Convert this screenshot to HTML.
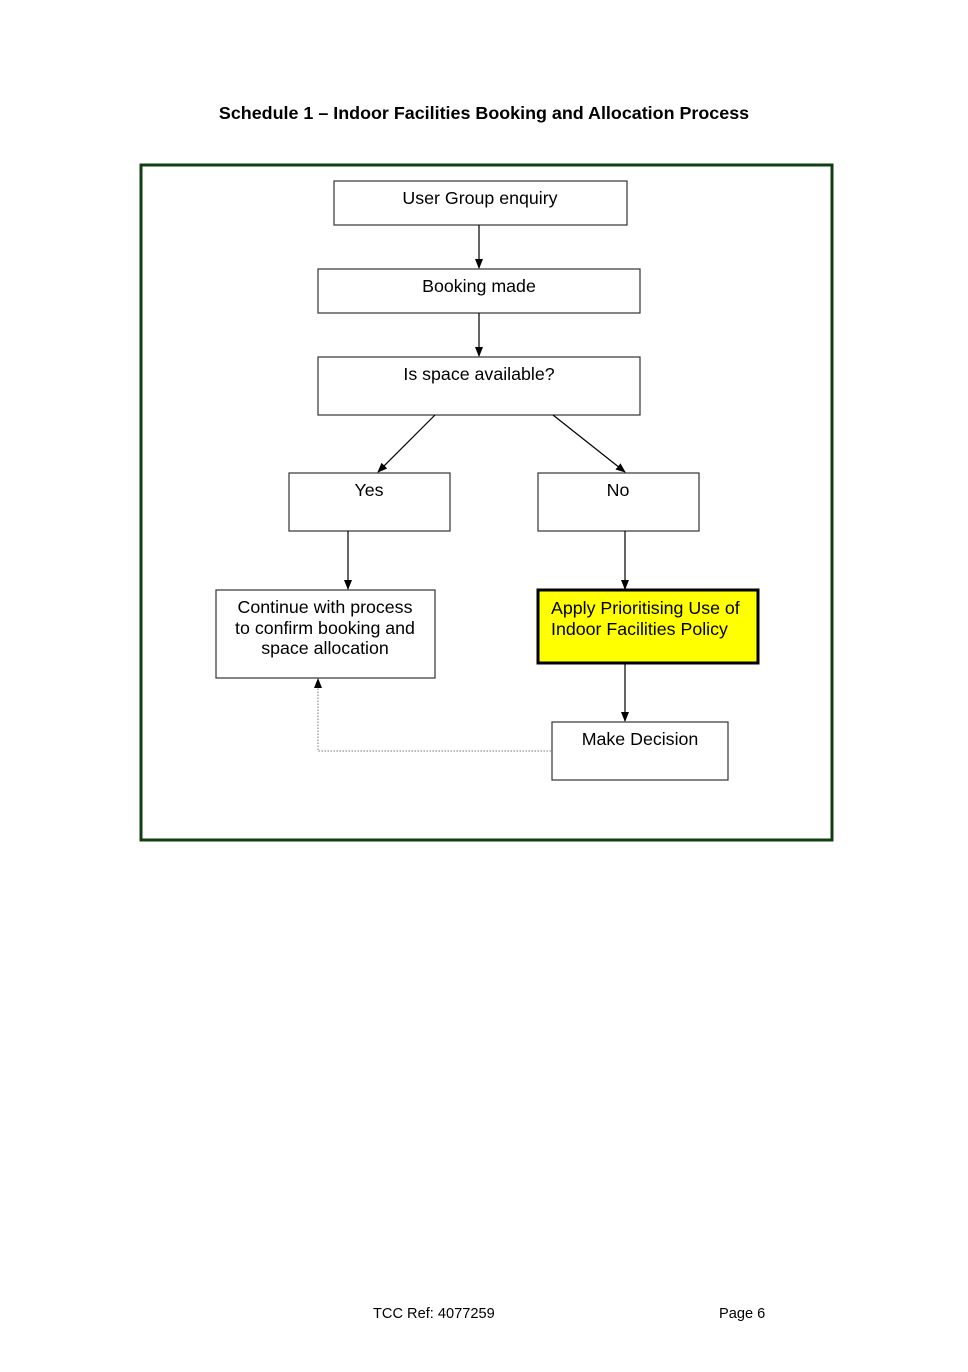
<!DOCTYPE html>
<html><head><meta charset="utf-8"><style>
body{margin:0;background:#fff;}
svg text{font-family:"Liberation Sans",Arial,sans-serif;fill:#000;}
</style></head><body>
<svg width="968" height="1367" xmlns="http://www.w3.org/2000/svg">
<defs><marker id="a" markerWidth="10" markerHeight="10" refX="9" refY="5" orient="auto" markerUnits="userSpaceOnUse"><path d="M0,1 L10,5 L0,9z" fill="#000"/></marker></defs>
<text x="484" y="119" text-anchor="middle" font-size="17.9" font-weight="bold">Schedule 1 – Indoor Facilities Booking and Allocation Process</text>
<rect x="141" y="165" width="691" height="675" fill="none" stroke="#123f12" stroke-width="3"/>
<g fill="#fff" stroke="#333" stroke-width="1.2">
<rect x="334" y="181" width="293" height="44"/>
<rect x="318" y="269" width="322" height="44"/>
<rect x="318" y="357" width="322" height="58"/>
<rect x="289" y="473" width="161" height="58"/>
<rect x="538" y="473" width="161" height="58"/>
<rect x="216" y="590" width="219" height="88"/>
<rect x="552" y="722" width="176" height="58"/>
</g>
<rect x="538" y="590" width="220" height="73" fill="#ffff00" stroke="#000" stroke-width="3"/>
<g stroke="#000" stroke-width="1.2" marker-end="url(#a)">
<line x1="479" y1="225" x2="479" y2="268"/>
<line x1="479" y1="313" x2="479" y2="356"/>
<line x1="435" y1="415" x2="378" y2="472"/>
<line x1="553" y1="415" x2="625" y2="472"/>
<line x1="348" y1="531" x2="348" y2="589"/>
<line x1="625" y1="531" x2="625" y2="589"/>
<line x1="625" y1="663" x2="625" y2="721"/>
</g>
<polyline points="551,751 318,751 318,680" fill="none" stroke="#777" stroke-width="1" stroke-dasharray="1.5,1.5"/>
<path d="M318,678 L314,688 L322,688z" fill="#000"/>
<g font-size="17.8" text-anchor="middle">
<text x="480" y="204">User Group enquiry</text>
<text x="479" y="292">Booking made</text>
<text x="479" y="380">Is space available?</text>
<text x="369" y="496">Yes</text>
<text x="618" y="496">No</text>
<text x="325" y="613">Continue with process</text>
<text x="325" y="634">to confirm booking and</text>
<text x="325" y="654">space allocation</text>
<text x="640" y="745">Make Decision</text>
</g>
<text x="551" y="614" font-size="17.8">Apply Prioritising Use of</text>
<text x="551" y="635" font-size="17.8">Indoor Facilities Policy</text>
<text x="373" y="1318" font-size="14.6">TCC Ref: 4077259</text>
<text x="719" y="1318" font-size="14.6">Page 6</text>
</svg>
</body></html>
